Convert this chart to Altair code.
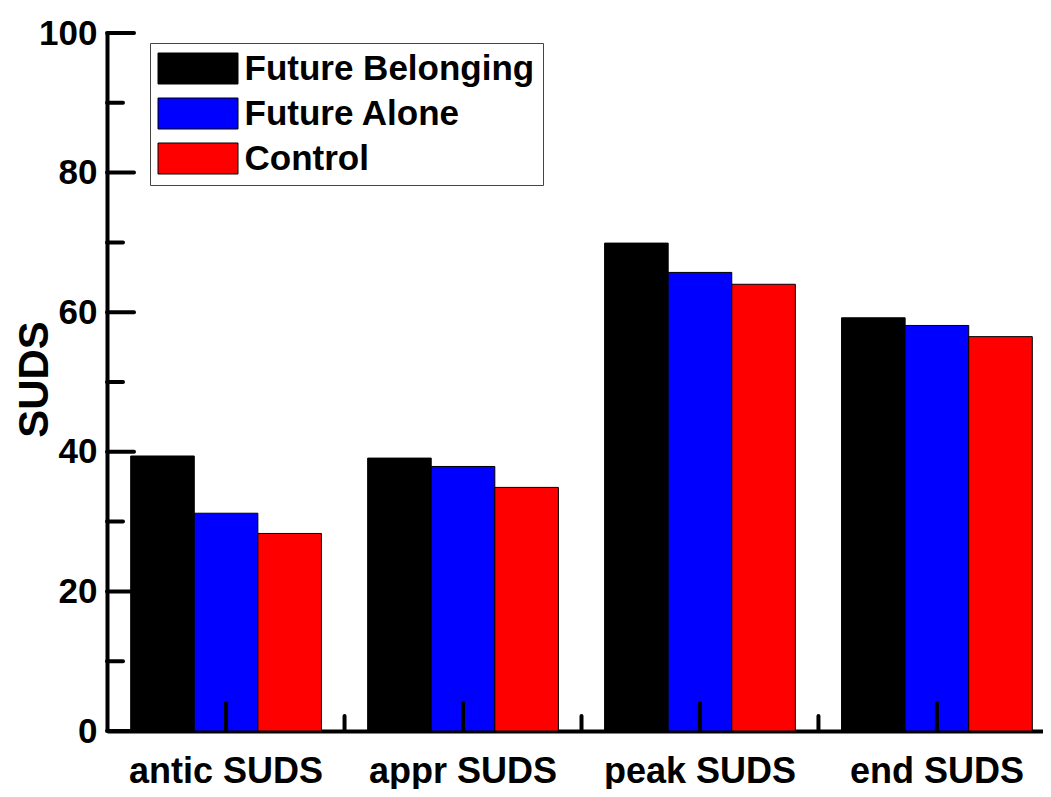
import altair as alt
import pandas as pd

categories = ["antic SUDS", "appr SUDS", "peak SUDS", "end SUDS"]
groups = ["Future Belonging", "Future Alone", "Control"]
future_belonging = [39.4, 39.1, 69.9, 59.2]
future_alone = [31.2, 37.9, 65.7, 58.1]
control = [28.3, 34.9, 64.0, 56.5]
colors = ["#000000", "#0000ff", "#ff0000"]
major_y = [0, 20, 40, 60, 80, 100]
minor_y = [10, 30, 50, 70, 90]

rows = []
for g, vals in zip(groups, [future_belonging, future_alone, control]):
    for c, v in zip(categories, vals):
        rows.append({"category": c, "group": g, "value": v})
df = pd.DataFrame(rows)

FONT = "Liberation Sans"
W, H = 936, 698
RANGE_W = 949
P_IN, P_OUT = 0.195, 0.1
step = RANGE_W / (len(categories) - P_IN + 2 * P_OUT)

xscale = alt.Scale(range=[0, RANGE_W], paddingInner=P_IN, paddingOuter=P_OUT)
yscale = alt.Scale(domain=[0, 100], nice=False)
xaxis = alt.Axis(title=None, labelAngle=0, labelPadding=23, labelFontSize=36,
                 labelLimit=0)
yaxis = alt.Axis(values=major_y, title="SUDS", titleX=-60, titleY=346,
                 titleAngle=270, titleBaseline="alphabetic",
                 titleAlign="center", titleFontSize=42,
                 labelFontSize=35, labelPadding=10, labelLimit=0)


def xenc():
    return alt.X("category:N", sort=categories, scale=xscale, axis=xaxis)


def yenc():
    return alt.Y("value:Q", scale=yscale, axis=yaxis)


bars = alt.Chart(df).mark_bar(stroke="black", strokeWidth=1).encode(
    x=xenc(),
    xOffset=alt.XOffset("group:N", sort=groups,
                        scale=alt.Scale(paddingInner=0, paddingOuter=0)),
    y=yenc(),
    color=alt.Color("group:N", sort=groups,
                    scale=alt.Scale(domain=groups, range=colors),
                    legend=alt.Legend(title=None)),
)

rule_style = dict(color="black", strokeWidth=4, strokeCap="round")

ymaj = alt.Chart(pd.DataFrame({"value": major_y})).mark_rule(**rule_style).encode(
    y=yenc(), x=alt.value(0), x2=alt.value(27),
)
ymin = alt.Chart(pd.DataFrame({"value": minor_y})).mark_rule(**rule_style).encode(
    y=yenc(), x=alt.value(0), x2=alt.value(16),
)
xmaj = alt.Chart(pd.DataFrame({"category": categories})).mark_rule(**rule_style).encode(
    x=xenc(), y=alt.value(H), y2=alt.value(H - 28),
)
xmin = alt.Chart(pd.DataFrame({"category": categories[:3]})).mark_rule(
    xOffset=step / 2, **rule_style).encode(
    x=xenc(), y=alt.value(H), y2=alt.value(H - 15),
)

chart = alt.layer(bars, ymaj, ymin, xmaj, xmin).properties(
    width=W, height=H,
    padding={"left": 99, "top": 25, "right": 0, "bottom": 58},
    autosize=alt.AutoSizeParams(type="none"),
    background="white",
).configure_view(stroke=None).configure_axis(
    domainColor="black", domainWidth=4, ticks=False, tickSize=0, grid=False,
    labelFont=FONT, labelFontWeight="bold", labelColor="black",
    titleFont=FONT, titleFontWeight="bold", titleColor="black",
).configure_legend(
    orient="none", legendX=43, legendY=10,
    padding=8, strokeColor="#444444", fillColor="white",
    symbolType="M-4,-1.55H4V1.55H-4Z", symbolSize=400,
    symbolStrokeColor="black", symbolStrokeWidth=1, symbolOpacity=1,
    symbolOffset=22.5, labelOffset=29, rowPadding=9,
    labelFont=FONT, labelFontWeight="bold", labelFontSize=35,
    labelColor="black", labelLimit=0,
)

chart.save("out.html", embed_options={"renderer": "svg", "actions": False})
